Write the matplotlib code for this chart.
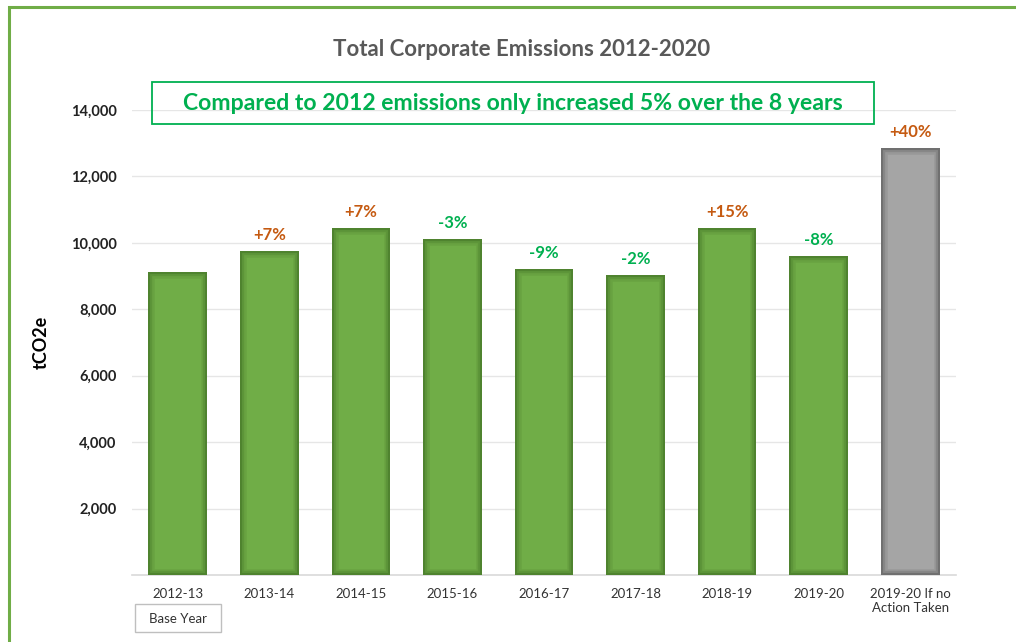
import matplotlib.pyplot as plt
from matplotlib.patches import Rectangle

years = ["2012-13", "2013-14", "2014-15", "2015-16", "2016-17", "2017-18",
         "2018-19", "2019-20", "2019-20 If no\nAction Taken"]
emissions = [9110, 9750, 10440, 10110, 9200, 9030, 10440, 9600, 12850]
changes = ["", "+7%", "+7%", "-3%", "-9%", "-2%", "+15%", "-8%", "+40%"]
y_ticks = [2000, 4000, 6000, 8000, 10000, 12000, 14000]

plt.rcParams['font.family'] = ['Lato', 'DejaVu Sans']

fig = plt.figure(figsize=(10.16, 6.42), dpi=100)
W, H = 1016, 642

# green outer frame of the chart area
fig.patches.append(Rectangle((9 / W, -0.1), 1.2, 1 - 7 / H + 0.1,
                             transform=fig.transFigure, fill=False,
                             edgecolor='#70AD47', linewidth=2.2))

ax = fig.add_axes([132 / W, 1 - 575 / H, (956 - 132) / W, (575 - 110) / H])

colors = ['#70AD47'] * (len(years) - 1) + ['#A5A5A5']
shade = ['#2F5A1A'] * (len(years) - 1) + ['#3C3C3C']
x = range(len(years))
bars = ax.bar(x, emissions, width=0.64, color=colors, linewidth=0, zorder=3)

# soft inner shadow: thick edges clipped to each bar
for b, sc in zip(bars, shade):
    for lw, a in [(9, 0.12), (6, 0.18), (3, 0.3)]:
        r = Rectangle(b.get_xy(), b.get_width(), b.get_height(), fill=False,
                      edgecolor=sc, linewidth=lw, alpha=a, zorder=4)
        ax.add_patch(r)
        r.set_clip_path(b)

for b, lab in zip(bars, changes):
    if not lab:
        continue
    c = '#C55A11' if lab.startswith('+') else '#00B050'
    ax.text(b.get_x() + b.get_width() / 2, b.get_height() + 250, lab,
            ha='center', va='bottom', color=c, fontsize=12, fontweight='bold')

ax.set_xlim(-0.5, len(years) - 0.5)
ax.set_ylim(0, 14000)
ax.set_yticks(y_ticks)
ax.set_yticklabels([f"{v:,}" for v in y_ticks], fontsize=10.5,
                   fontweight='bold', color='#222222')
ax.set_xticks(list(x))
ax.set_xticklabels(years, fontsize=9.5, color='#333333', va='top')
ax.tick_params(axis='both', length=0)
ax.tick_params(axis='y', pad=11)
ax.tick_params(axis='x', pad=9)
ax.grid(axis='y', color='#E6E6E6', linewidth=1, zorder=0)
for s in ['top', 'right', 'left']:
    ax.spines[s].set_visible(False)
ax.spines['bottom'].set_color('#D9D9D9')
ax.spines['bottom'].set_linewidth(1.2)

ax.set_ylabel('tCO2e', fontsize=13, fontweight='bold', color='black')
ax.yaxis.set_label_coords((50 - 132) / (956 - 132), 0.5)

fig.text(522 / W, 1 - 50 / H, 'Total Corporate Emissions 2012-2020',
         ha='center', va='center', fontsize=16, fontweight='bold',
         color='#595959')

# callout box
fig.patches.append(Rectangle((152 / W, 1 - 124 / H), (874 - 152) / W, 42 / H,
                             transform=fig.transFigure, fill=False,
                             edgecolor='#00B050', linewidth=1.3))
fig.text(513 / W, 1 - 104 / H,
         'Compared to 2012 emissions only increased 5% over the 8 years',
         ha='center', va='center', fontsize=16.6, fontweight='bold',
         color='#00B050')

# base year tag
fig.patches.append(Rectangle((135 / W, 1 - 632 / H), 86 / W, 28 / H,
                             transform=fig.transFigure, fill=False,
                             edgecolor='#BFBFBF', linewidth=1))
fig.text(178 / W, 1 - 619 / H, 'Base Year', ha='center', va='center',
         fontsize=9.5, color='#333333')

fig.savefig('out.png', dpi=100)
